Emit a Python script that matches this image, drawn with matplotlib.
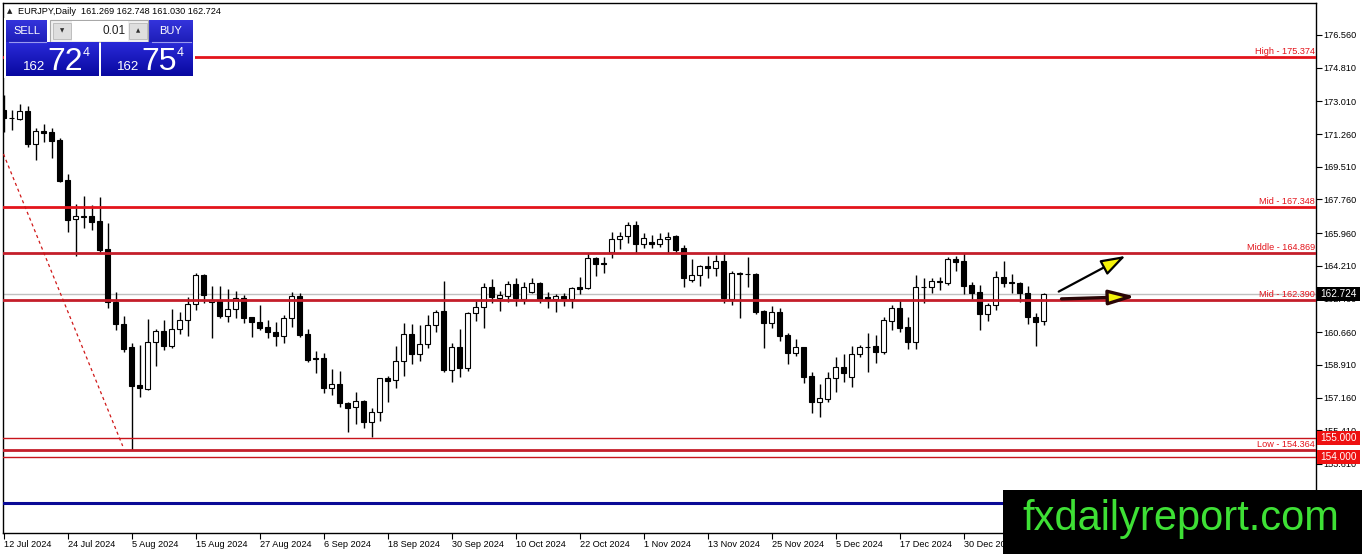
import matplotlib
matplotlib.use('Agg')
import matplotlib.pyplot as plt
import numpy as np
from matplotlib.patches import Rectangle
from matplotlib.colors import LinearSegmentedColormap
from matplotlib.transforms import blended_transform_factory

W, H = 1362, 554
plt.rcParams['font.family'] = ['Liberation Sans', 'DejaVu Sans']

# ---------------- data ----------------
opens = [172.55, 172.10, 172.07, 172.49, 170.73, 171.42, 171.37, 170.94, 168.80, 166.72,
         166.83, 166.88, 166.61, 165.11, 162.27, 161.10, 159.87, 157.83, 157.62, 160.13,
         160.72, 159.92, 160.83, 161.31, 162.17, 163.72, 162.27, 162.33, 161.53, 161.90,
         162.49, 161.47, 161.20, 160.94, 160.67, 160.45, 161.42, 162.60, 160.56, 159.28,
         159.28, 157.67, 157.89, 156.87, 156.66, 156.98, 155.85, 156.39, 158.21, 158.10,
         159.12, 160.56, 159.49, 160.03, 161.04, 161.79, 158.64, 159.87, 158.74, 161.69,
         162.01, 163.08, 162.49, 162.60, 163.24, 162.44, 162.83, 163.29, 162.54, 162.44,
         162.60, 162.44, 163.08, 163.02, 164.63, 164.36, 164.95, 165.65, 165.81, 166.39,
         165.38, 165.49, 165.38, 165.65, 165.81, 165.16, 163.45, 163.72, 164.20, 164.09,
         164.47, 162.44, 163.83, 163.77, 163.77, 161.79, 161.15, 161.74, 160.51, 159.54,
         159.87, 158.32, 156.92, 157.08, 158.21, 158.80, 158.26, 159.49, 159.86, 159.92,
         159.60, 161.26, 161.95, 160.94, 160.13, 163.08, 163.08, 163.40, 163.29, 164.58,
         164.47, 163.18, 162.81, 161.63, 162.11, 163.61, 163.35, 163.29, 162.76, 161.47,
         161.269]
highs = [173.35, 172.55, 172.87, 172.76, 171.58, 171.80, 171.58, 171.05, 169.12, 167.52,
         167.95, 167.47, 167.89, 166.50, 162.81, 161.53, 160.08, 159.97, 161.36, 160.83,
         161.31, 161.90, 161.74, 162.54, 163.83, 163.77, 163.13, 163.13, 162.97, 162.86,
         162.65, 161.47, 162.11, 161.31, 161.20, 161.58, 162.81, 162.76, 160.83, 159.65,
         159.54, 158.69, 158.58, 156.92, 157.46, 157.03, 156.60, 158.21, 158.32, 159.92,
         161.15, 161.10, 161.04, 161.58, 161.85, 163.40, 160.08, 160.83, 161.74, 162.33,
         163.29, 163.51, 162.86, 163.40, 163.56, 163.35, 163.56, 163.35, 162.81, 162.70,
         162.76, 163.08, 163.61, 164.90, 164.68, 164.68, 166.02, 166.02, 166.55, 166.61,
         165.97, 165.86, 165.97, 166.02, 165.86, 165.32, 164.58, 164.26, 164.74, 164.79,
         164.95, 163.93, 163.88, 164.68, 163.83, 161.85, 162.06, 161.95, 160.62, 160.30,
         159.87, 158.53, 157.89, 158.53, 159.33, 159.49, 159.92, 159.97, 160.62, 160.51,
         161.47, 162.11, 162.38, 161.47, 163.72, 163.56, 163.56, 163.61, 164.68, 164.74,
         164.90, 163.35, 163.18, 162.22, 163.93, 164.47, 163.77, 163.35, 163.13, 161.69,
         162.748]
lows = [171.37, 171.48, 172.01, 170.57, 169.87, 170.83, 169.98, 168.69, 166.02, 164.74,
        166.23, 166.13, 164.95, 161.95, 160.78, 159.60, 154.364, 157.19, 157.57, 158.85,
        159.71, 159.81, 160.56, 160.45, 161.85, 162.22, 160.35, 161.42, 161.20, 161.42,
        161.15, 160.40, 160.78, 160.35, 159.92, 160.08, 160.94, 160.40, 159.06, 158.48,
        157.41, 157.30, 156.66, 155.32, 155.73, 155.53, 155.05, 155.91, 156.92, 157.67,
        158.32, 158.96, 159.12, 159.81, 160.67, 158.53, 158.00, 158.26, 158.58, 161.26,
        160.88, 162.22, 161.79, 162.27, 162.06, 162.17, 162.76, 162.22, 161.95, 161.74,
        162.06, 161.95, 162.70, 162.97, 163.67, 163.83, 164.63, 165.11, 165.43, 164.90,
        165.16, 165.16, 165.22, 164.90, 164.90, 163.08, 163.35, 163.13, 163.56, 163.67,
        162.22, 162.11, 161.42, 163.08, 161.63, 159.81, 160.88, 160.19, 158.96, 159.38,
        157.94, 156.34, 156.12, 156.92, 157.46, 157.99, 157.73, 159.33, 158.53, 158.99,
        159.49, 160.78, 160.67, 159.76, 159.76, 162.22, 162.76, 162.92, 163.18, 163.93,
        162.70, 162.44, 160.78, 161.26, 161.85, 163.08, 162.76, 162.27, 161.10, 159.92,
        161.030]
closes = [172.12, 172.12, 172.49, 170.73, 171.42, 171.32, 170.89, 168.75, 166.66, 166.88,
          166.85, 166.55, 165.06, 162.27, 161.10, 159.76, 157.78, 157.67, 160.13, 160.72,
          159.92, 160.83, 161.31, 162.17, 163.72, 162.65, 162.38, 161.53, 161.90, 162.49,
          161.42, 161.20, 160.88, 160.67, 160.45, 161.42, 162.60, 160.51, 159.17, 159.20,
          157.67, 157.89, 156.87, 156.60, 156.98, 155.85, 156.39, 158.21, 158.05, 159.12,
          160.56, 159.49, 160.03, 161.04, 161.74, 158.64, 159.87, 158.74, 161.69, 162.01,
          163.08, 162.54, 162.65, 163.24, 162.49, 163.08, 163.28, 162.44, 162.44, 162.60,
          162.44, 163.02, 162.97, 164.63, 164.31, 164.31, 165.65, 165.81, 166.39, 165.38,
          165.70, 165.38, 165.65, 165.75, 165.06, 163.56, 163.72, 164.20, 164.09, 164.47,
          162.49, 163.83, 163.77, 163.76, 161.74, 161.15, 161.74, 160.45, 159.54, 159.87,
          158.26, 156.92, 157.14, 158.21, 158.80, 158.48, 159.49, 159.87, 159.87, 159.60,
          161.31, 161.95, 160.88, 160.13, 163.08, 163.06, 163.40, 163.35, 164.58, 164.42,
          163.13, 162.76, 161.63, 162.11, 163.61, 163.29, 163.29, 162.76, 161.47, 161.20,
          162.724]

date_labels = ["12 Jul 2024", "24 Jul 2024", "5 Aug 2024", "15 Aug 2024", "27 Aug 2024",
               "6 Sep 2024", "18 Sep 2024", "30 Sep 2024", "10 Oct 2024", "22 Oct 2024",
               "1 Nov 2024", "13 Nov 2024", "25 Nov 2024", "5 Dec 2024", "17 Dec 2024",
               "30 Dec 2024"]
bars_per_label = 8

ytick_values = [176.560, 174.810, 173.010, 171.260, 169.510, 167.760, 165.960,
                164.210, 162.460, 160.660, 158.910, 157.160, 155.410, 153.610]

level_names = ["High", "Mid", "Middle", "Mid", "Low"]
level_values = [175.374, 167.348, 164.869, 162.390, 154.364]
level_colors = ["#e3141b", "#e3141b", "#c41e2a", "#c41e2a", "#c41e2a"]
box_levels = [155.000, 154.000]
blue_level = 151.52
trend_x = [0.0, 14.9]
trend_y = [170.19, 154.57]
arrow_up_start, arrow_up_end = (131.9, 162.83), (140.25, 164.74)
arrow_flat_start, arrow_flat_end = (132.25, 162.44), (141.5, 162.56)
symbol = "EURJPY,Daily"
lot = "0.01"
spread = 0.030

# ---------------- figure ----------------
fig = plt.figure(figsize=(W / 100, H / 100), dpi=100)
fig.patch.set_facecolor('white')
L_PX, R_PX, T_PX, B_PX = 3, 1316, 3, 533
ax = fig.add_axes([L_PX / W, (H - B_PX) / H, (R_PX - L_PX) / W, (B_PX - T_PX) / H])
ax.set_facecolor('white')
ax.set_xlim(-0.0625, 164.06)
ax.set_ylim(149.915, 178.27)
for s in ax.spines.values():
    s.set_color('black')
    s.set_linewidth(1.0)

FS = 6.6
x = np.arange(len(opens))
o = np.array(opens); h = np.array(highs); l = np.array(lows); c = np.array(closes)
ax.vlines(x, l, h, color='black', lw=1.0, zorder=3)
up = c >= o
body_h = np.maximum(np.abs(c - o), 0.025)
ax.bar(x, body_h, bottom=np.minimum(o, c), width=0.64,
       color=np.where(up, 'white', 'black'), edgecolor='black', linewidth=0.8, zorder=4)

blend = blended_transform_factory(ax.transAxes, ax.transData)

# horizontal levels
for name, val, col in zip(level_names, level_values, level_colors):
    ax.axhline(val, color=col, lw=2.0, zorder=5)
    ax.text(0.9992, val + 0.06, f"{name} - {val:.3f}", transform=blend, ha='right',
            va='bottom', color='#e3141b', fontsize=FS, zorder=6)
for val in box_levels:
    ax.axhline(val, color='#c8141b', lw=1.0, zorder=5)
ax.axhline(blue_level, color='#0a0a96', lw=2.2, zorder=5)
ax.axhline(closes[-1], color='#c0c0c0', lw=1.0, zorder=2)

# trend line
ax.plot(trend_x, trend_y, color='#d01818', lw=0.9, ls=(0, (2.5, 2.5)), zorder=5)

# arrows
ax.annotate('', xy=arrow_up_end, xytext=arrow_up_start,
            arrowprops=dict(arrowstyle='-|>,head_length=1.5,head_width=0.5',
                            fc='#f5f20a', ec='black', lw=1.6, mutation_scale=10,
                            shrinkA=0, shrinkB=0), zorder=7)
ax.annotate('', xy=arrow_flat_end, xytext=arrow_flat_start,
            arrowprops=dict(arrowstyle='-|>,head_length=1.6,head_width=0.45',
                            fc='#f5f20a', ec='#2a0606', lw=2.4, mutation_scale=10,
                            shrinkA=0, shrinkB=0), zorder=7)

# ticks
ax.set_xticks(np.arange(len(date_labels)) * bars_per_label)
ax.set_xticklabels(date_labels, ha='left', fontsize=FS)
ax.tick_params(axis='x', direction='out', length=4, width=0.8, pad=1.2, colors='black')
ax.yaxis.tick_right()
ax.set_yticks(ytick_values)
ax.set_yticklabels([f"{v:.3f}" for v in ytick_values], fontsize=FS, ha='left')
ax.tick_params(axis='y', direction='out', length=4, width=0.8, pad=1.5, colors='black')

# right axis boxes
bw = 43 / (R_PX - L_PX)
bx = (1317 - L_PX) / (R_PX - L_PX)
bh = 14 / ((B_PX - T_PX) / (178.27 - 149.915))
for val, fc in [(closes[-1], 'black')] + [(v, '#ee1111') for v in box_levels]:
    ax.add_patch(Rectangle((bx, val - bh / 2), bw, bh, transform=blend, fc=fc, ec='none',
                           clip_on=False, zorder=20))
    ax.text(bx + bw / 2, val, f"{val:.3f}", transform=blend, ha='center', va='center',
            color='white', fontsize=FS + 0.6, clip_on=False, zorder=21)

# ---------------- overlay (panel, watermark) ----------------
ov = fig.add_axes([0, 0, 1, 1])
ov.set_zorder(10)
ov.patch.set_alpha(0)
ov.axis('off')


def grad_rect(x0, y0, x1, y1, c_top, c_bot):
    cmap = LinearSegmentedColormap.from_list('g', [c_top, c_bot])
    grad = np.linspace(0, 1, 64).reshape(-1, 1)
    ov.imshow(grad, extent=(x0, x1, y1, y0), cmap=cmap, aspect='auto',
              interpolation='bilinear', zorder=3)


# header
ov.text(10, 11, "▲", fontsize=5, ha='center', va='center', color='#202020',
        family=['DejaVu Sans'])
ov.text(18, 11, f"{symbol}  {opens[-1]:.3f} {highs[-1]:.3f} {lows[-1]:.3f} {closes[-1]:.3f}",
        fontsize=FS, ha='left', va='center', color='black')

# panel background
ov.add_patch(Rectangle((4, 18), 191, 60, fc='white', ec='none', zorder=2))
# sell/buy buttons
grad_rect(6, 20, 47, 42, '#3434dc', '#1e1eb8')
grad_rect(149, 20, 193, 42, '#3434dc', '#1e1eb8')
ov.plot([9, 46], [41.5, 41.5], color='#9a9af0', lw=0.8, zorder=4)
ov.plot([152, 191], [41.5, 41.5], color='#9a9af0', lw=0.8, zorder=4)
ov.text(26.5, 31, "SELL", color='white', fontsize=8, ha='center', va='center', zorder=5)
ov.text(171, 31, "BUY", color='white', fontsize=8, ha='center', va='center', zorder=5)
# lot control
ov.add_patch(Rectangle((50, 20), 98, 22, fc='#f0f0f0', ec='#a8a8a8', lw=0.8, zorder=3))
ov.add_patch(Rectangle((53, 23), 18, 16, fc='#dedede', ec='#b8b8b8', lw=0.6, zorder=4))
ov.add_patch(Rectangle((129, 23), 18, 16, fc='#dedede', ec='#b8b8b8', lw=0.6, zorder=4))
ov.add_patch(Rectangle((72, 21), 56, 20, fc='white', ec='none', zorder=4))
ov.text(62, 31, "▼", fontsize=4, ha='center', va='center', color='#303030', zorder=5,
        family=['DejaVu Sans'])
ov.text(138, 30.5, "▲", fontsize=4, ha='center', va='center', color='#303030', zorder=5,
        family=['DejaVu Sans'])
ov.text(126, 31, lot, fontsize=8.5, ha='right', va='center', color='#202020', zorder=5)
# price boxes
grad_rect(6, 42, 99, 76, '#2a2ad8', '#0808a0')
grad_rect(101, 42, 193, 76, '#2a2ad8', '#0808a0')
bid = closes[-1]
ask = bid + spread
for px0, val in [(23, bid), (117, ask)]:
    s = f"{val:.3f}"
    big_int, rest = s.split('.')
    ov.text(px0, 70, big_int, fontsize=9.5, color='white', ha='left', va='baseline', zorder=5)
    ov.text(px0 + 24, 70, rest[:2], fontsize=23, color='white', ha='left', va='baseline',
            zorder=5)
    ov.text(px0 + 60, 56, rest[2], fontsize=9, color='white', ha='left', va='baseline',
            zorder=5)

# watermark
ov.add_patch(Rectangle((1003, 490), 360, 65, fc='black', ec='none', zorder=6))
ov.text(1181, 530, "fxdailyreport.com", fontsize=30, color='#3ee035', ha='center',
        va='baseline', zorder=7)

ov.set_xlim(0, W)
ov.set_ylim(H, 0)

fig.savefig('out.png', dpi=100)
